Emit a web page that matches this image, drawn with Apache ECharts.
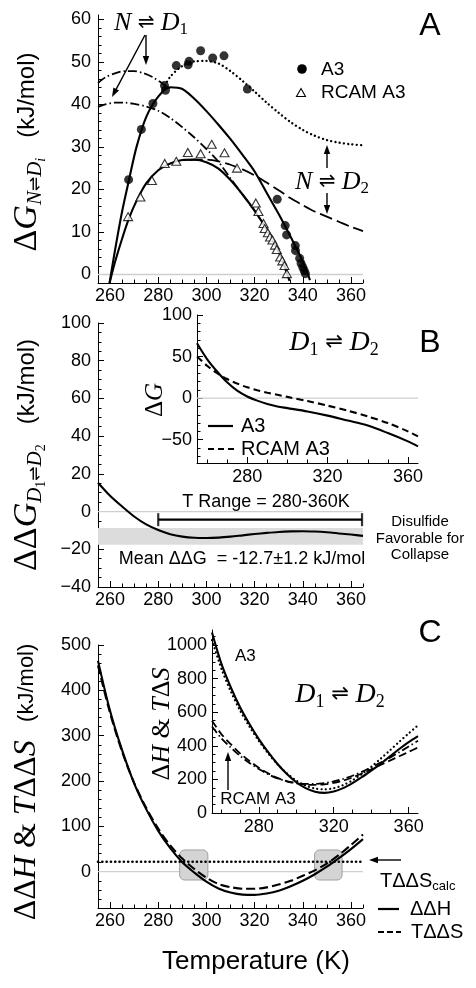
<!DOCTYPE html>
<html><head><meta charset="utf-8">
<script src="https://cdn.jsdelivr.net/npm/echarts@6/dist/echarts.min.js"></script>
<style>html,body{margin:0;padding:0;background:#fff}#c{width:476px;height:988px}</style>
</head><body><div id="c"></div>
<script>
// ---------------- DATA ----------------
// Panel A: data points
const tA3Dots = [267.7, 273.0, 277.8, 282.6, 283.0, 287.5, 292.4, 292.8, 297.6, 302.6, 307.3, 317.0, 329.4, 332.7, 333.3, 336.9, 337.0, 338.7, 339.3, 340.0, 340.6, 341.1];
const gA3Dots = [22.3, 34.1, 40.2, 44.4, 43.3, 49.1, 49.3, 50.1, 52.6, 50.9, 51.4, 43.6, 17.7, 11.5, 9.3, 6.8, 5.6, 3.8, 2.6, 1.7, 0.9, 0.2];
const tRcamTri = [267.5, 272.6, 277.4, 282.7, 287.5, 292.3, 297.6, 302.2, 307.5, 312.7, 320.5, 321.6, 323.7, 324.2, 325.5, 326.4, 327.4, 328.5, 329.2, 330.6, 331.5, 332.4, 333.4];
const gRcamTri = [13.6, 18.2, 22.1, 26.1, 26.6, 28.7, 28.4, 30.6, 28.6, 25.0, 16.8, 14.8, 12.0, 10.8, 9.8, 8.8, 8.1, 6.9, 5.9, 4.1, 3.2, 2.1, 0.2];
// Panel A: fitted curves
const tA3D1 = [259.8, 262, 265, 268, 271, 275, 280, 285, 290, 295, 300, 305, 310, 315, 320, 325, 330, 335, 340, 343];
const gA3D1 = [-2, 5.5, 14.8, 22.6, 30.0, 37.0, 41.8, 44.0, 43.6, 41.3, 38.4, 35.2, 31.8, 28.1, 24.2, 19.2, 14.2, 8.8, 3.0, -1.3];
const tA3D2 = [282, 285, 290, 295, 300, 305, 310, 315, 320, 325, 330, 335, 340, 345, 350, 355, 360, 365];
const gA3D2 = [43.5, 46.5, 49.0, 50.1, 50.2, 49.6, 47.8, 45.5, 43.0, 40.4, 38.0, 35.8, 34.0, 32.6, 31.6, 31.0, 30.6, 30.4];
const tA3D1x = [255, 258, 262, 266, 270, 274, 278, 282, 285];
const gA3D1x = [45.0, 46.3, 47.3, 47.8, 47.8, 47.3, 46.3, 44.8, 43.8];
const tRcamD1x = [255, 258, 262, 266, 270, 275, 280, 285, 290, 295, 300, 305, 310, 315, 320, 325, 330, 334];
const gRcamD1x = [39.4, 40.0, 40.4, 40.4, 40.1, 39.5, 38.5, 36.8, 34.6, 32.2, 29.5, 26.5, 22.6, 18.8, 15.0, 10.6, 5.4, -0.2];
const tRcamD1 = [259.8, 262, 265, 268, 271, 275, 280, 285, 290, 295, 300, 305, 310, 315, 320, 325, 330, 334.5];
const gRcamD1 = [-2, 2.8, 8.4, 13.4, 17.3, 21.4, 24.5, 26.1, 26.9, 27.0, 26.4, 24.9, 22.2, 18.8, 15.0, 10.6, 5.4, -1.5];
const tRcamD2 = [293, 295, 300, 305, 310, 315, 320, 325, 330, 335, 340, 345, 350, 355, 360, 365];
const gRcamD2 = [26.9, 27.0, 27.0, 26.6, 25.8, 24.7, 23.3, 21.6, 19.8, 17.9, 16.3, 14.8, 13.6, 12.4, 11.2, 10.2];
// Panel B
const tB = [255, 260, 265, 270, 275, 280, 285, 290, 295, 300, 305, 310, 315, 320, 325, 330, 335, 340, 345, 350, 355, 360, 365];
const ddgB = [15.3, 8.4, 2.7, -2.6, -6.8, -9.8, -12.0, -13.3, -13.9, -14.0, -13.8, -13.3, -12.6, -11.9, -11.3, -10.8, -10.5, -10.4, -10.6, -11.0, -11.6, -12.2, -12.9];
const bandB = [-17.6, -8.7];
const tRangeB = [280, 364.6];
const tRangeLevel = -4.3;
const tBin = [255, 260, 265, 270, 275, 280, 285, 290, 295, 300, 310, 320, 330, 340, 350, 360, 365];
const dgA3Bin = [66, 47, 32, 19, 9, 2, -3, -7, -10, -12, -16, -21, -27, -33, -42, -52, -58];
const dgRcamBin = [50, 39, 30, 23, 17.5, 13, 9.5, 6.5, 4, 1.5, -3.5, -9, -15, -22, -30, -40, -46];
// Panel C
const tC = [255, 260, 265, 270, 275, 280, 285, 290, 295, 300, 305, 310, 315, 320, 325, 330, 335, 340, 345, 350, 355, 360, 365];
const ddhC = [465, 355, 268, 195, 138, 90, 52, 21, -2, -22, -37, -46, -50.5, -51, -48, -42, -32, -20, -5.5, 11, 30, 50, 72];
const tdsC = [455, 350, 265, 196, 141, 95, 58, 29, 6, -13, -27, -34, -37.5, -37.5, -34.5, -28, -20, -9, 3, 18, 37, 59, 82];
const tdsCalc = 22;
const boxesC = [[288.9, 300.6, -18.3, 48], [344.9, 356.3, -18.3, 48]];
const tCin = [255, 260, 265, 270, 275, 280, 285, 290, 295, 300, 305, 310, 315, 320, 325, 330, 335, 340, 345, 350, 355, 360, 365];
const dhA3Cin = [1075, 890, 750, 630, 530, 440, 362, 292, 232, 183, 148, 127, 120, 128, 148, 178, 213, 252, 293, 337, 381, 422, 458];
const tdsA3Cin = [1030, 860, 725, 610, 515, 430, 355, 290, 236, 193, 163, 146, 141, 148, 166, 195, 232, 275, 323, 373, 424, 474, 522];
const dhRcamCin = [550, 470, 410, 355, 310, 270, 236, 209, 189, 176, 169, 167, 171, 179, 193, 212, 235, 260, 286, 312, 338, 364, 390];
const tdsRcamCin = [515, 445, 390, 340, 298, 262, 231, 206, 189, 179, 173, 173, 178, 188, 203, 222, 245, 272, 300, 330, 362, 396, 430];
// Tick labels
const xMajor = [260, 280, 300, 320, 340, 360];
const xInsetMajor = [280, 320, 360];
const yMajorA = [0, 10, 20, 30, 40, 50, 60];
const yMajorB = [-40, -20, 0, 20, 40, 60, 80, 100];
const yMajorBin = [-50, 0, 50, 100];
const yMajorC = [0, 100, 200, 300, 400, 500];
const yMajorCin = [0, 200, 400, 600, 800, 1000];

// ---------------- HELPERS ----------------
const zip = (a, b) => a.map((v, i) => [v, b[i]]);
function minors(lo, hi, step, majors) {
  const out = [];
  for (let v = lo; v <= hi + 1e-9; v += step) { const r = Math.round(v * 1000) / 1000; if (!majors.includes(r)) out.push(r); }
  return out;
}
const F_SANS = 'Liberation Sans, Arial, sans-serif';
const F_SERIF = 'Liberation Serif, Times New Roman, serif';
const F_SYM = 'DejaVu Sans';
const fmt = v => String(v).replace('-', '\u2212');

function axisPair(dim, g, min, max, majors, minorVals, margin) {
  const base = { type: 'value', gridIndex: g, min, max, position: dim === 'x' ? 'bottom' : 'left', splitLine: { show: false } };
  const main = Object.assign({}, base, {
    axisLine: { show: true, onZero: false, lineStyle: { color: '#000', width: 1 } },
    axisTick: { show: true, inside: true, length: 6, customValues: majors, lineStyle: { color: '#000', width: 1 } },
    axisLabel: { show: true, customValues: majors, color: '#000', fontSize: 18, fontFamily: F_SANS, margin, formatter: fmt }
  });
  const minor = Object.assign({}, base, {
    axisLine: { show: false, onZero: false },
    axisTick: { show: true, inside: true, length: 3.5, customValues: minorVals, lineStyle: { color: '#000', width: 1 } },
    axisLabel: { show: false }
  });
  return [main, minor];
}
function L(g, xs, ys, lw, dash, extra) {
  return Object.assign({
    type: 'line', xAxisIndex: 2 * g, yAxisIndex: 2 * g, data: zip(xs, ys), showSymbol: false, symbol: 'none',
    smooth: 0.3, silent: true, z: 3,
    lineStyle: { color: '#000', width: lw, type: dash || 'solid', cap: (Array.isArray(dash) && dash[0] < 1) ? 'round' : 'butt' }
  }, extra || {});
}
function zeroLine(g) {
  return { type: 'line', xAxisIndex: 2 * g, yAxisIndex: 2 * g, data: [[255, 0], [365, 0]], symbol: 'none', silent: true, z: 1,
    lineStyle: { color: '#cfcfcf', width: 1.3 } };
}
function mrich(sz) {
  const p = Math.round(sz * 0.5), pp = Math.round(sz * 0.85);
  return {
    r: { fontFamily: F_SERIF, fontSize: sz, fill: '#000' },
    i: { fontFamily: F_SERIF, fontStyle: 'italic', fontSize: sz, fill: '#000' },
    a: { fontFamily: F_SYM, fontSize: Math.round(sz * 0.75), fill: '#000' },
    n: { fontFamily: F_SERIF, fontSize: Math.round(sz * 0.66), fill: '#000', padding: [p, 0, 0, 0] },
    s: { fontFamily: F_SERIF, fontStyle: 'italic', fontSize: Math.round(sz * 0.62), fill: '#000', padding: [p, 0, 0, 0] },
    sa: { fontFamily: F_SYM, fontSize: Math.round(sz * 0.5), fill: '#000', padding: [p, 0, 0, 0] },
    sn: { fontFamily: F_SERIF, fontSize: Math.round(sz * 0.42), fill: '#000', padding: [pp, 0, 0, 0] },
    ss: { fontFamily: F_SERIF, fontStyle: 'italic', fontSize: Math.round(sz * 0.42), fill: '#000', padding: [pp, 0, 0, 0] },
    u: { fontFamily: F_SANS, fontSize: Math.round(sz * 0.7), fill: '#000' }
  };
}
function mtext(x, y, text, sz, rot, align) {
  return { type: 'text', x, y, rotation: rot || 0, silent: true, z: 50,
    style: { text, rich: mrich(sz), align: align || 'center', verticalAlign: 'middle' } };
}
function stext(x, y, text, sz, align) {
  return { type: 'text', x, y, silent: true, z: 50,
    style: { text, fontFamily: F_SANS, fontSize: sz, fill: '#000', align: align || 'left', verticalAlign: 'middle' } };
}
function arrow(x1, y1, x2, y2) {
  const head = 9, w = 3.2;
  const ang = Math.atan2(y2 - y1, x2 - x1);
  const bx = x2 - head * Math.cos(ang), by = y2 - head * Math.sin(ang);
  const px = -Math.sin(ang) * w, py = Math.cos(ang) * w;
  return [
    { type: 'line', silent: true, z: 50, shape: { x1, y1, x2: bx + 2 * Math.cos(ang), y2: by + 2 * Math.sin(ang) }, style: { stroke: '#000', lineWidth: 1.4 } },
    { type: 'polygon', silent: true, z: 50, shape: { points: [[x2, y2], [bx + px, by + py], [bx - px, by - py]] }, style: { fill: '#000' } }
  ];
}
function seg(x1, y1, x2, y2, dash, lw) {
  return { type: 'line', silent: true, z: 50, shape: { x1, y1, x2, y2 }, style: { stroke: '#000', lineWidth: lw || 2, lineDash: dash || null } };
}

// ---------------- OPTION ----------------
const grids = [
  { left: 98, top: 15, width: 265, height: 268 },
  { left: 98, top: 323, width: 265, height: 264 },
  { left: 197, top: 315, width: 221, height: 148 },
  { left: 98, top: 645, width: 265, height: 263 },
  { left: 212, top: 630, width: 206, height: 183 }
];
const xMin = minors(255, 365, 5, xMajor);
const xInMin = minors(260, 360, 10, xInsetMajor);
const xAxes = [].concat(
  axisPair('x', 0, 255, 365, xMajor, xMin, 4),
  axisPair('x', 1, 255, 365, xMajor, xMin, 4),
  axisPair('x', 2, 255, 365, xInsetMajor, xInMin, 5),
  axisPair('x', 3, 255, 365, xMajor, xMin, 4),
  axisPair('x', 4, 255, 365, xInsetMajor, xInMin, 5)
);
const yAxes = [].concat(
  axisPair('y', 0, -2, 61, yMajorA, minors(-2, 61, 2, yMajorA), 7),
  axisPair('y', 1, -40, 100, yMajorB, minors(-40, 100, 5, yMajorB), 7),
  axisPair('y', 2, -78, 100, yMajorBin, minors(-70, 100, 10, yMajorBin), 5),
  axisPair('y', 3, -80, 500, yMajorC, minors(-80, 500, 20, yMajorC), 7),
  axisPair('y', 4, 0, 1090, yMajorCin, minors(0, 1090, 50, yMajorCin), 5)
);

const DOT = [0.1, 4.2];
const series = [
  // Panel A
  zeroLine(0),
  L(0, tA3D1x, gA3D1x, 1.8, [9, 3, 1.5, 3]),
  L(0, tRcamD1x, gRcamD1x, 1.8, [9, 3, 1.5, 3]),
  L(0, tA3D1, gA3D1, 2.1),
  L(0, tA3D2, gA3D2, 2.3, DOT),
  L(0, tRcamD1, gRcamD1, 2.1),
  L(0, tRcamD2, gRcamD2, 1.8, [13, 5]),
  { type: 'scatter', xAxisIndex: 0, yAxisIndex: 0, data: zip(tA3Dots, gA3Dots), symbol: 'circle', symbolSize: 9, silent: true, z: 4, itemStyle: { color: '#000' } },
  { type: 'scatter', xAxisIndex: 0, yAxisIndex: 0, data: zip(tRcamTri, gRcamTri), symbol: 'triangle', symbolSize: [9, 8], silent: true, z: 4, itemStyle: { color: '#fff', borderColor: '#000', borderWidth: 1.1 } },
  // Panel B
  Object.assign(zeroLine(1), { markArea: { silent: true, itemStyle: { color: '#dcdcdc' }, data: [[{ xAxis: 255, yAxis: bandB[1] }, { xAxis: 365, yAxis: bandB[0] }]] } }),
  L(1, tB, ddgB, 2.1),
  L(1, tRangeB, [tRangeLevel, tRangeLevel], 2.2, 'solid', { smooth: false }),
  { type: 'scatter', xAxisIndex: 2, yAxisIndex: 2, data: zip(tRangeB, [tRangeLevel, tRangeLevel]), symbol: 'rect', symbolSize: [2.2, 13], silent: true, z: 4, itemStyle: { color: '#000' } },
  zeroLine(2),
  L(2, tBin, dgA3Bin, 2.1),
  L(2, tBin, dgRcamBin, 2.1, [7, 4]),
  // Panel C
  zeroLine(3),
  { type: 'custom', xAxisIndex: 6, yAxisIndex: 6, data: boxesC, silent: true, z: 2,
    renderItem: (params, api) => {
      const p0 = api.coord([api.value(0), api.value(3)]);
      const p1 = api.coord([api.value(1), api.value(2)]);
      return { type: 'rect', shape: { x: p0[0], y: p0[1], width: p1[0] - p0[0], height: p1[1] - p0[1], r: 5 },
        style: { fill: '#d4d4d4', stroke: '#a0a0a0', lineWidth: 1 } };
    } },
  L(3, [255, 365], [tdsCalc, tdsCalc], 2.6, DOT, { smooth: false }),
  L(3, tC, ddhC, 2.1),
  L(3, tC, tdsC, 2.1, [9, 4]),
  L(4, tCin, dhA3Cin, 2.1),
  L(4, tCin, tdsA3Cin, 2.2, DOT),
  L(4, tCin, dhRcamCin, 1.8, [8, 4]),
  L(4, tCin, tdsRcamCin, 1.8, [8, 3, 1.5, 3])
];

const graphics = [].concat(
  // Panel letters
  [stext(430, 26, 'A', 32, 'center'), stext(430, 343, 'B', 32, 'center'), stext(430, 633, 'C', 32, 'center')],
  // Y titles
  [mtext(27, 152, '{r|Δ}{i|G}{s|N}{sa|⇌}{s|D}{ss|i}{u|   (kJ/mol)}', 34, Math.PI / 2),
   mtext(27, 455, '{r|ΔΔ}{i|G}{s|D}{sn|1}{sa|⇌}{s|D}{sn|2}{u|   (kJ/mol)}', 34, Math.PI / 2),
   mtext(27, 782, '{r|ΔΔ}{i|H}{r| & }{i|T}{r|ΔΔ}{i|S}{u|   (kJ/mol)}', 32, Math.PI / 2),
   mtext(155, 400, '{r|Δ}{i|G}', 25, Math.PI / 2),
   mtext(162, 724, '{r|Δ}{i|H}{r| & }{i|T}{r|Δ}{i|S}', 26, Math.PI / 2)],
  // Panel A annotations
  [mtext(151, 23, '{i|N}{a| ⇌ }{i|D}{n|1}', 26), mtext(332, 182, '{i|N}{a| ⇌ }{i|D}{n|2}', 26)],
  arrow(145, 35, 112, 97), arrow(146, 35, 146, 65), arrow(327, 168, 327, 145), arrow(327, 193, 327, 214),
  // Panel A legend
  [{ type: 'circle', silent: true, z: 50, shape: { cx: 302, cy: 69, r: 4.8 }, style: { fill: '#000' } },
   stext(321, 70, 'A3', 19),
   { type: 'polygon', silent: true, z: 50, shape: { points: [[301, 88.5], [305.5, 96.5], [296.5, 96.5]] }, style: { fill: '#fff', stroke: '#000', lineWidth: 1.1 } },
   stext(321, 93, 'RCAM A3', 19)],
  // Panel B
  [mtext(334, 343, '{i|D}{n|1}{a| ⇌ }{i|D}{n|2}', 28),
   seg(208, 426, 233, 426, null, 2.2), stext(241, 426, 'A3', 20),
   seg(208, 449, 234, 449, [6, 4], 2.2), stext(241, 449, 'RCAM A3', 20),
   stext(266, 502, 'T Range = 280-360K', 18, 'center'),
   stext(242, 559, 'Mean ΔΔG  = -12.7±1.2 kJ/mol', 18, 'center'),
   stext(420, 522, 'Disulfide', 15, 'center'), stext(420, 538.5, 'Favorable for', 15, 'center'), stext(420, 555, 'Collapse', 15, 'center')],
  // Panel C
  [mtext(340, 695, '{i|D}{n|1}{a| ⇌ }{i|D}{n|2}', 28),
   stext(235, 656, 'A3', 17), stext(258, 799, 'RCAM A3', 17, 'center'),
   { type: 'text', x: 380, y: 881, silent: true, z: 50, style: { text: '{t|TΔΔS}{c|calc}', align: 'left', verticalAlign: 'middle',
       rich: { t: { fontFamily: F_SANS, fontSize: 20, fill: '#000' }, c: { fontFamily: F_SANS, fontSize: 13, fill: '#000', padding: [11, 0, 0, 0] } } } },
   seg(378, 909, 399, 909, null, 2.2), stext(410, 909, 'ΔΔH', 20),
   seg(378, 932, 401, 932, [6, 3], 2.2), stext(411, 932, 'TΔΔS', 20),
   stext(256, 962, 'Temperature (K)', 26, 'center')],
  arrow(228, 790, 228, 752), arrow(401, 860, 369, 860)
);

const option = {
  animation: false,
  backgroundColor: '#fff',
  grid: grids,
  xAxis: xAxes,
  yAxis: yAxes,
  series,
  graphic: { elements: graphics }
};
const chart = echarts.init(document.getElementById('c'), null, { renderer: 'canvas' });
chart.setOption(option);
</script></body></html>
